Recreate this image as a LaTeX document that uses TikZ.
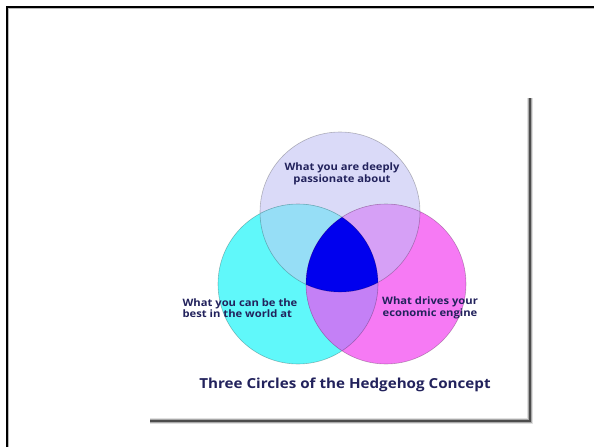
\documentclass[tikz,border=0pt]{standalone}
\usepackage{fontspec}
\setmainfont{Open Sans}
\newfontfamily\widesans[FakeStretch=1.1]{Open Sans}
\definecolor{lav}{RGB}{218,218,248}
\definecolor{cyn}{RGB}{96,248,250}
\definecolor{mag}{RGB}{246,122,244}
\definecolor{lavcyn}{RGB}{150,222,246}
\definecolor{lavmag}{RGB}{214,160,246}
\definecolor{cynmag}{RGB}{196,128,246}
\definecolor{core}{RGB}{0,0,238}
\definecolor{ink}{RGB}{34,34,92}
\tikzset{
  lbl/.style={font=\widesans\bfseries\fontsize{10.2}{11.6}\selectfont, text=ink, inner sep=0pt},
  ttl/.style={font=\widesans\bfseries\fontsize{13.8}{16}\selectfont, text=ink, inner sep=0pt},
  rim/.style={draw=black, draw opacity=0.25, line width=0.6pt}
}

\begin{document}
\begin{tikzpicture}[x=1pt,y=-1pt]
  \useasboundingbox (0,0) rectangle (594,447);

  % page frame, top and left only
  \draw[black, line width=2pt] (7,447) -- (7,7) -- (594,7);
  \draw[gray!55, line width=0.8pt] (8.6,447) -- (8.6,8.6) -- (594,8.6);

  % drop shadow of the card
  \foreach \w/\o in {6/0.12,4/0.25,2.2/0.55}
    \draw[black, line width=\w pt, opacity=\o] (530,98) -- (530,421) -- (150,421);

  \coordinate (tp) at (340,212);
  \coordinate (lf) at (298,284);
  \coordinate (rt) at (386,284);
  \def\rad{80pt}

  \fill[lav] (tp) circle (\rad);
  \fill[cyn] (lf) circle (\rad);
  \fill[mag] (rt) circle (\rad);
  \begin{scope}
    \clip (tp) circle (\rad);
    \fill[lavcyn] (lf) circle (\rad);
    \fill[lavmag] (rt) circle (\rad);
  \end{scope}
  \begin{scope}
    \clip (lf) circle (\rad);
    \fill[cynmag] (rt) circle (\rad);
    \clip (rt) circle (\rad);
    \fill[core] (tp) circle (\rad);
  \end{scope}
  \draw[rim] (tp) circle (\rad) (lf) circle (\rad) (rt) circle (\rad);

  \node[lbl, align=center] (pas) at (342,174) {What you are deeply\\passionate about};
  \node[lbl, align=left] (bst) at (240,308) {What you can be the\\best in the world at};
  \node[lbl, align=center] (eco) at (430,308) {What drives your\\economic engine};
  \node[ttl] (hed) at (345,385) {Three Circles of the Hedgehog Concept};
\end{tikzpicture}
\end{document}
